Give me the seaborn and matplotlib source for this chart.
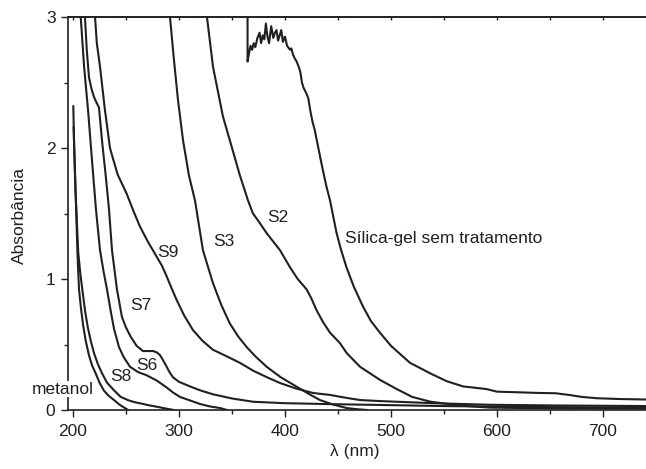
import matplotlib
matplotlib.use("Agg")
import matplotlib.pyplot as plt
import seaborn as sns
from matplotlib.ticker import MultipleLocator

# -----------------------------
# data (nm, absorbance)
# -----------------------------
metanol_x = [200.3, 201.0, 202.0, 203.0, 204.2, 205.7, 207.5, 209.5, 212.0, 215.0, 218.0,
             221.4, 225.0, 229.0, 233.5, 238.7, 244.0, 248.0, 252.0]
metanol_y = [2.32, 2.05, 1.78, 1.53, 1.20, 0.92, 0.78, 0.65, 0.53, 0.42, 0.34,
             0.28, 0.21, 0.15, 0.11, 0.076, 0.04, 0.02, 0.0]

s8_x = [200.6, 201.5, 202.5, 203.6, 205.0, 206.8, 208.8, 211.5, 214.0, 216.7, 220.0, 223.5,
        227.4, 232.0, 238.7, 245.0, 252.0, 258.0, 264.0, 271.0, 279.0, 287.0, 295.0]
s8_y = [2.16, 1.90, 1.65, 1.45, 1.20, 1.05, 0.92, 0.75, 0.63, 0.53, 0.43, 0.35,
        0.28, 0.21, 0.15, 0.10, 0.075, 0.06, 0.05, 0.037, 0.025, 0.012, 0.0]

s6_x = [207.3, 210.5, 214.2, 218.0, 221.7, 225.5, 228.8, 232.1, 235.5, 238.7, 243.4, 248.1,
        253.8, 261.3, 269.5, 279.0, 288.4, 294.3, 300.9, 310.4, 319.8, 329.2, 338.7, 345.3]
s6_y = [3.0, 2.62, 2.29, 1.90, 1.53, 1.22, 1.06, 0.92, 0.76, 0.62, 0.48, 0.40,
        0.33, 0.29, 0.265, 0.225, 0.172, 0.134, 0.10, 0.073, 0.046, 0.027, 0.015, 0.0]

s7_x = [211.3, 213.0, 215.1, 217.5, 219.8, 222.0, 224.5, 227.6, 231.0, 234.0, 236.8, 241.5,
        246.2, 250.0, 254.4, 260.0, 266.0, 271.0, 275.5, 279.0, 282.0, 285.0, 288.4, 291.0,
        294.3, 300.0, 310.4, 320.0, 332.0, 350.0, 369.8, 400.0, 442.0, 500.0, 550.0, 650.0, 740.6]
s7_y = [3.0, 2.75, 2.54, 2.45, 2.39, 2.35, 2.31, 2.04, 1.78, 1.53, 1.22, 0.92,
        0.71, 0.63, 0.56, 0.49, 0.45, 0.45, 0.45, 0.44, 0.42, 0.38, 0.33, 0.29,
        0.25, 0.215, 0.18, 0.15, 0.12, 0.088, 0.063, 0.052, 0.045, 0.037, 0.03, 0.022, 0.018]

s9_x = [220.8, 222.5, 225.5, 230.0, 234.9, 242.0, 250.7, 257.0, 263.2, 271.0, 279.0, 284.0,
        288.4, 293.0, 297.8, 305.0, 313.2, 322.0, 332.0, 345.0, 357.5, 370.0, 383.0, 395.3,
        410.0, 426.4, 442.5, 457.0, 470.8, 490.0, 505.4, 540.0, 593.4, 650.0, 740.6]
s9_y = [3.0, 2.8, 2.62, 2.3, 2.0, 1.8, 1.65, 1.52, 1.40, 1.28, 1.17, 1.10,
        1.02, 0.93, 0.84, 0.72, 0.61, 0.53, 0.46, 0.41, 0.36, 0.30, 0.25, 0.206,
        0.165, 0.13, 0.115, 0.094, 0.076, 0.068, 0.063, 0.052, 0.04, 0.035, 0.03]

s3_x = [291.5, 295.3, 299.0, 303.8, 309.4, 315.1, 322.6, 332.0, 340.0, 348.0, 356.0, 363.9,
        372.0, 382.7, 396.0, 411.0, 422.0, 433.0, 446.0, 458.2, 468.0, 477.4]
s3_y = [3.0, 2.67, 2.37, 2.06, 1.79, 1.60, 1.22, 0.97, 0.80, 0.66, 0.56, 0.48,
        0.41, 0.33, 0.25, 0.178, 0.125, 0.076, 0.04, 0.015, 0.006, 0.0]

s2_x = [326.4, 332.1, 341.5, 349.7, 357.5, 365.1, 369.8, 376.0, 382.7, 395.3, 404.7, 412.0,
        420.5, 425.0, 429.9, 436.0, 442.5, 451.9, 458.2, 470.8, 489.6, 505.4, 520.0, 536.8,
        565.0, 593.4, 650.0, 740.6]
s2_y = [3.0, 2.62, 2.24, 2.01, 1.79, 1.60, 1.50, 1.43, 1.35, 1.22, 1.09, 1.00,
        0.92, 0.85, 0.76, 0.67, 0.59, 0.51, 0.435, 0.33, 0.23, 0.16, 0.10, 0.064,
        0.034, 0.018, 0.013, 0.01]

silica_x = [364.7, 364.7, 366.0, 367.5, 369.0, 370.5, 372.0, 374.0, 376.0, 377.5, 379.0, 380.5,
            382.0, 383.5, 385.0, 387.0, 389.0, 390.5, 392.0, 393.5, 395.0, 396.5, 398.0, 400.0,
            402.0, 404.7, 406.0, 407.7, 409.5, 411.0, 413.0, 414.5, 416.0, 417.5, 420.0, 422.0,
            424.0, 426.0, 428.0, 431.0, 435.0, 439.0, 442.5, 448.7, 453.0, 458.0, 465.0, 473.6,
            481.0, 489.6, 500.0, 511.0, 518.0, 537.0, 552.5, 568.0, 590.0, 600.0, 621.0, 640.0,
            655.0, 668.0, 680.0, 694.0, 715.0, 740.6]
silica_y = [3.05, 2.66, 2.72, 2.78, 2.75, 2.80, 2.77, 2.84, 2.88, 2.80, 2.86, 2.83,
            2.95, 2.85, 2.80, 2.93, 2.84, 2.88, 2.90, 2.82, 2.86, 2.90, 2.81, 2.85,
            2.78, 2.75, 2.76, 2.71, 2.68, 2.66, 2.62, 2.58, 2.50, 2.46, 2.42, 2.38,
            2.28, 2.20, 2.14, 2.02, 1.86, 1.71, 1.60, 1.35, 1.22, 1.09, 0.94, 0.79,
            0.68, 0.59, 0.49, 0.41, 0.36, 0.28, 0.22, 0.18, 0.16, 0.14, 0.135, 0.13,
            0.128, 0.115, 0.10, 0.09, 0.084, 0.08]

curves = [(metanol_x, metanol_y), (s8_x, s8_y), (s6_x, s6_y), (s7_x, s7_y),
          (s9_x, s9_y), (s3_x, s3_y), (s2_x, s2_y), (silica_x, silica_y)]

# curve labels: text, x, y
label_text = ["metanol", "S8", "S6", "S7", "S9", "S3", "S2", "Sílica-gel sem tratamento"]
label_x = [161, 235, 260, 254, 279, 332, 383, 456.6]
label_y = [0.16, 0.254, 0.34, 0.80, 1.20, 1.29, 1.47, 1.31]

sns.set_style("ticks")
plt.rcParams['font.family'] = ['Liberation Sans', 'DejaVu Sans']
plt.rcParams['font.size'] = 12.5

ink = '#231f20'
fig = plt.figure(figsize=(6.46, 4.69), dpi=100)
ax = fig.add_axes([68 / 646, 1 - 410 / 469, (646 - 68) / 646, (410 - 17) / 469])

for cx, cy in curves:
    sns.lineplot(x=cx, y=cy, ax=ax, color=ink, lw=1.5, estimator=None, sort=False)

for t, lx, ly in zip(label_text, label_x, label_y):
    ax.text(lx, ly, t, fontsize=12.5, color=ink, ha='left', va='center', zorder=5,
            clip_on=False, bbox=dict(facecolor='white', edgecolor='none', pad=0.5) if t == "metanol" else None)

ax.set_xlim(195.3, 740.6)
ax.set_ylim(0, 3)
ax.xaxis.set_major_locator(MultipleLocator(100))
ax.xaxis.set_minor_locator(MultipleLocator(50))
ax.yaxis.set_major_locator(MultipleLocator(1))
ax.yaxis.set_minor_locator(MultipleLocator(0.5))
ax.tick_params(axis='both', which='major', direction='out', length=5, width=1,
               labelsize=12.5, colors=ink, pad=4)
ax.tick_params(axis='both', which='minor', direction='out', length=3, width=1, colors=ink)
ax.tick_params(axis='x', which='major', pad=5)

# tiny inward ticks on the top frame line
top = ax.secondary_xaxis('top')
top.xaxis.set_major_locator(MultipleLocator(100))
top.xaxis.set_minor_locator(MultipleLocator(50))
top.tick_params(which='both', direction='in', length=2, width=1, colors=ink, labeltop=False)
top.spines['top'].set_color(ink)
top.spines['top'].set_linewidth(1.2)

for side in ['left', 'bottom', 'top']:
    ax.spines[side].set_color(ink)
    ax.spines[side].set_linewidth(1.2)
ax.spines['right'].set_visible(False)

ax.set_xlabel("")
ax.set_ylabel("")
fig.text(19.5 / 646, 1 - 215 / 469, "Absorbância", rotation=90, ha='center', va='center',
         fontsize=12.5, color=ink)
fig.text(355 / 646, 1 - 451 / 469, "λ (nm)", ha='center', va='center', fontsize=12.5, color=ink)

fig.savefig("out.png", dpi=100)
